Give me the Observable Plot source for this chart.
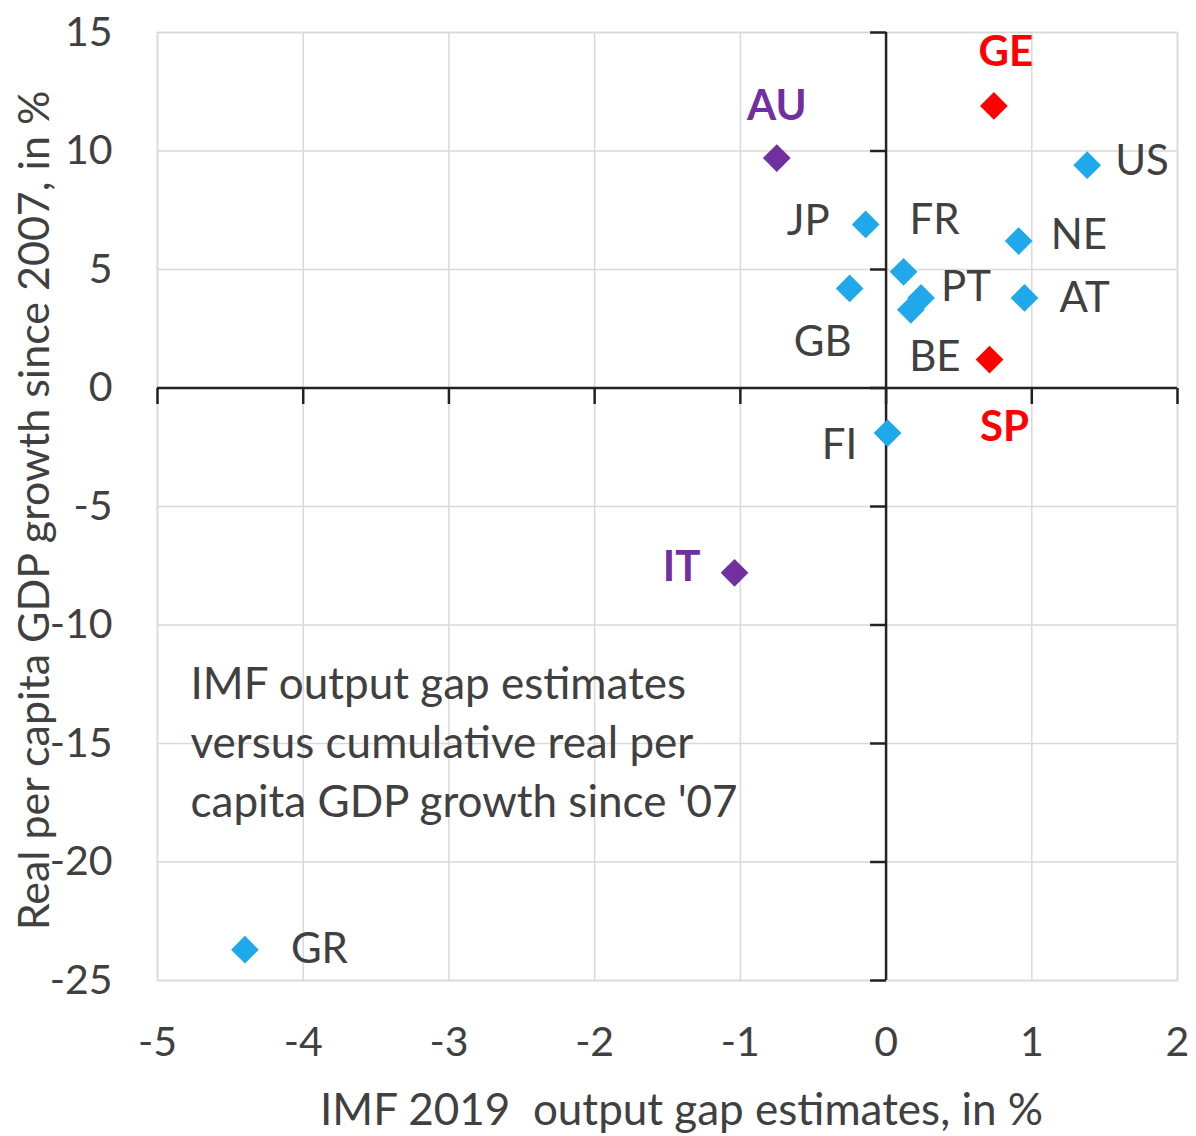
<!DOCTYPE html>
<html>
<head>
<meta charset="utf-8">
<script src="https://cdn.jsdelivr.net/npm/d3@7"></script>
<script src="https://cdn.jsdelivr.net/npm/@observablehq/plot@0.6"></script>
<style>
  body { margin: 0; background: #fff; }
  #chart svg { display: block; }
</style>
</head>
<body>
<div id="chart"></div>
<script>
// ---- data ----
const countries = ["GE", "AU", "US", "JP", "FR", "NE", "PT", "AT", "GB", "BE", "SP", "FI", "IT", "GR"];
const outputGap = [0.74, -0.75, 1.38, -0.14, 0.12, 0.91, 0.24, 0.95, -0.25, 0.17, 0.71, 0.01, -1.04, -4.40];
const gdpGrowth = [11.9, 9.7, 9.4, 6.9, 4.9, 6.2, 3.8, 3.8, 4.2, 3.3, 1.2, -1.9, -7.8, -23.7];
const groups = ["red", "purple", "blue", "blue", "blue", "blue", "blue", "blue", "blue", "blue", "red", "blue", "purple", "blue"];
const xTicks = [-5, -4, -3, -2, -1, 0, 1, 2];
const yTicks = [-25, -20, -15, -10, -5, 0, 5, 10, 15];
const annotation = ["IMF output gap estimates", "versus cumulative real per", "capita GDP growth since '07"];
const xTitle = "IMF 2019  output gap estimates, in %";
const yTitle = "Real per capita GDP growth since 2007, in %";

// ---- styling ----
const groupColor = {red: "#ff0000", purple: "#7030a0", blue: "#1fa9ea"};
const textGray = "#404040";
const placement = {
  GE: {dx: 12, dy: -53, textAnchor: "middle"},
  AU: {dx: 0, dy: -52, textAnchor: "middle"},
  US: {dx: 28, dy: -4, textAnchor: "start"},
  JP: {dx: -36, dy: -3, textAnchor: "end"},
  FR: {dx: 6, dy: -51, textAnchor: "start"},
  NE: {dx: 32, dy: -6, textAnchor: "start"},
  PT: {dx: 20, dy: -10, textAnchor: "start"},
  AT: {dx: 35, dy: 1, textAnchor: "start"},
  GB: {dx: -27, dy: 54, textAnchor: "middle"},
  BE: {dx: 24, dy: 48, textAnchor: "middle"},
  SP: {dx: 15, dy: 68, textAnchor: "middle"},
  FI: {dx: -48, dy: 13, textAnchor: "middle"},
  IT: {dx: -53, dy: -5, textAnchor: "middle"},
  GR: {dx: 46, dy: 0, textAnchor: "start"}
};

const data = countries.map((c, i) => ({country: c, gap: outputGap[i], growth: gdpGrowth[i], group: groups[i]}));

const leftTick = {draw(ctx) { ctx.moveTo(-16, 0); ctx.lineTo(0, 0); }};
const downTick = {draw(ctx) { ctx.moveTo(0, 0); ctx.lineTo(0, 16); }};
const fmt = d => `${d}`;

const labelMarks = data.map(d => {
  const p = placement[d.country];
  const colored = d.group !== "blue";
  return Plot.text([d], {
    x: "gap", y: "growth", text: "country",
    dx: p.dx, dy: p.dy, textAnchor: p.textAnchor,
    fill: colored ? groupColor[d.group] : textGray,
    fontWeight: colored ? "bold" : "normal",
    fontSize: 42
  });
});

const chart = Plot.plot({
  width: 1196,
  height: 1136,
  marginLeft: 157,
  marginRight: 19,
  marginTop: 32,
  marginBottom: 156,
  style: {fontFamily: "Lato, 'Open Sans', sans-serif", fontSize: "41px", color: textGray, background: "#fff"},
  x: {domain: [-5, 2]},
  y: {domain: [-25, 15]},
  marks: [
    Plot.gridX(xTicks, {stroke: "#d9d9d9", strokeOpacity: 1, strokeWidth: 1.5}),
    Plot.gridY(yTicks, {stroke: "#d9d9d9", strokeOpacity: 1, strokeWidth: 1.5}),
    Plot.frame({stroke: "#d9d9d9", strokeWidth: 1.5}),
    Plot.ruleX([0], {stroke: "#222", strokeWidth: 2.5}),
    Plot.ruleY([0], {stroke: "#222", strokeWidth: 2.5}),
    Plot.dot(yTicks, {x: () => 0, y: d => d, symbol: leftTick, stroke: "#222", strokeWidth: 2.5, fill: "none"}),
    Plot.dot(xTicks, {x: d => d, y: () => 0, symbol: downTick, stroke: "#222", strokeWidth: 2.5, fill: "none"}),
    Plot.axisX({ticks: xTicks, tickSize: 0, tickPadding: 46, tickFormat: fmt, label: null, fill: textGray, fontSize: 41}),
    Plot.axisY({ticks: yTicks, tickSize: 0, tickPadding: 45, tickFormat: fmt, label: null, fill: textGray, fontSize: 41}),
    Plot.text([xTitle], {frameAnchor: "bottom", dx: 14, dy: 130, lineAnchor: "middle", textAnchor: "middle", fill: textGray, fontSize: 44}),
    Plot.text([yTitle], {frameAnchor: "left", rotate: -90, dx: -122, dy: 4, lineAnchor: "middle", textAnchor: "middle", fill: textGray, fontSize: 43}),
    Plot.text([annotation.join("\n")], {frameAnchor: "top-left", dx: 33, dy: 625, lineAnchor: "top", textAnchor: "start", lineHeight: 1.34, fill: textGray, fontSize: 44}),
    Plot.dot(data, {x: "gap", y: "growth", symbol: "diamond2", r: 12.5, fill: d => groupColor[d.group], stroke: "none"}),
    ...labelMarks
  ]
});
document.getElementById("chart").append(chart);
</script>
</body>
</html>
